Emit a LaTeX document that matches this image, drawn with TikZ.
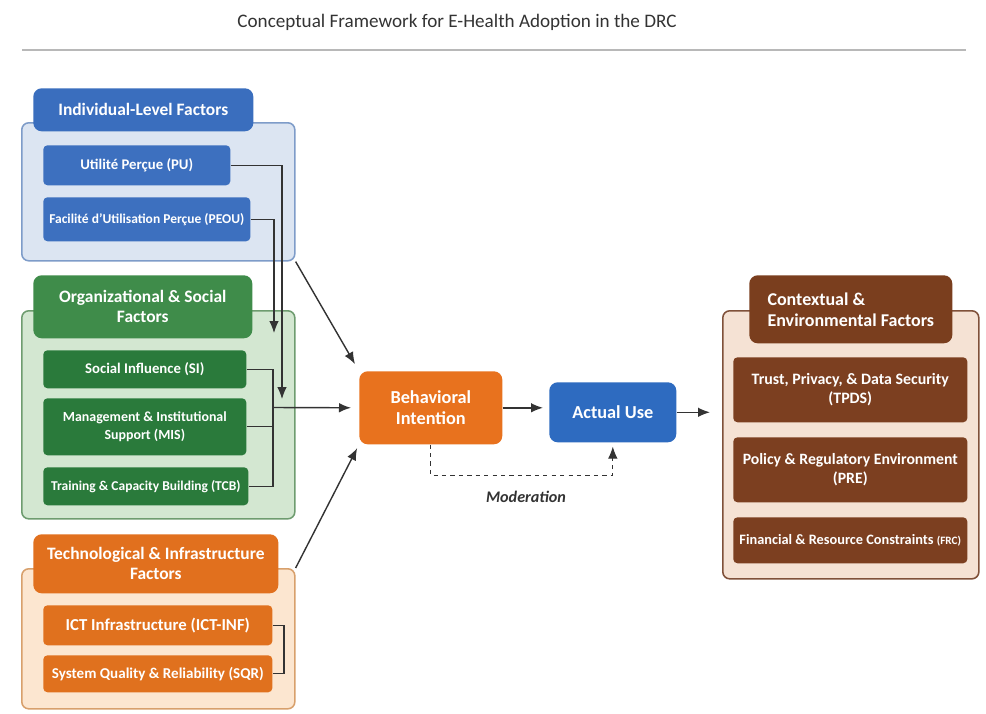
\documentclass[tikz,border=0pt]{standalone}
\usepackage{fontspec}
\setmainfont{Carlito}
\usetikzlibrary{arrows.meta,positioning}
\definecolor{indfill}{HTML}{DCE5F2}\definecolor{inddraw}{HTML}{7E9CC9}\definecolor{indhdr}{HTML}{3A6EBE}\definecolor{inditm}{HTML}{3D70BF}
\definecolor{orgfill}{HTML}{D3E7D1}\definecolor{orgdraw}{HTML}{6E9C6F}\definecolor{orghdr}{HTML}{3F8C4A}\definecolor{orgitm}{HTML}{2A7A3B}
\definecolor{tecfill}{HTML}{FCE6D0}\definecolor{tecdraw}{HTML}{D8A06C}\definecolor{techdr}{HTML}{E1701E}\definecolor{tecitm}{HTML}{E0711E}
\definecolor{ctxfill}{HTML}{F5E2D4}\definecolor{ctxdraw}{HTML}{80513A}\definecolor{ctxhdr}{HTML}{7A3E1E}\definecolor{ctxitm}{HTML}{7C3F20}
\definecolor{bicol}{HTML}{E8721E}\definecolor{aucol}{HTML}{2E6BC0}\definecolor{arrgray}{HTML}{333333}
\begin{document}
\begin{tikzpicture}[x=0.025cm,y=-0.025cm,
grp/.style={draw,line width=1.1pt,rounded corners=5pt,anchor=north west,inner sep=0pt},
hdr/.style={rounded corners=6pt,anchor=north west,text=white,font=\bfseries\fontsize{12.4}{14.4}\selectfont,align=center,inner sep=2pt},
itm/.style={rounded corners=3pt,anchor=north west,text=white,font=\bfseries\fontsize{10.5}{12.5}\selectfont,align=center,inner sep=2pt},
core/.style={rounded corners=6pt,anchor=north west,text=white,font=\bfseries\fontsize{13}{15}\selectfont,align=center},
arr/.style={-{Latex[length=3mm,width=2.4mm]},line width=1pt,draw=arrgray},
lnk/.style={line width=0.8pt,draw=arrgray}]
\useasboundingbox[fill=white](0,0) rectangle (986,713);
% title
\node[text=arrgray,font=\fontsize{13.6}{15}\selectfont] (title) at (457,22) {Conceptual Framework for E-Health Adoption in the DRC};
\coordinate (rulel) at (22,50);\coordinate (ruler) at (966,50);
\draw[line width=1pt,draw=black!28](rulel)--(ruler);
% individual-level factors
\node[grp,draw=inddraw,fill=indfill,minimum width=6.825cm,minimum height=3.45cm] (ind) at (21,122) {};
\node[hdr,fill=indhdr,minimum width=5.5cm,minimum height=1.075cm] (indh) at (33,88) {Individual-Level Factors};
\node[itm,fill=inditm,minimum width=4.675cm,minimum height=1cm] (PU) at (43,145) {Utilité Perçue (PU)};
\node[itm,fill=inditm,minimum width=5.175cm,minimum height=1.1cm,font=\bfseries\fontsize{9.6}{11}\selectfont] (PEOU) at (43,197) {Facilité d'Utilisation Perçue (PEOU)};
% organizational & social factors
\node[grp,draw=orgdraw,fill=orgfill,minimum width=6.825cm,minimum height=5.2cm] (org) at (21,310) {};
\node[hdr,fill=orghdr,minimum width=5.475cm,minimum height=1.575cm] (orgh) at (33,275) {Organizational \& Social\\Factors};
\node[itm,fill=orgitm,minimum width=5.075cm,minimum height=0.95cm] (SI) at (43,350) {Social Influence (SI)};
\node[itm,fill=orgitm,minimum width=5.075cm,minimum height=1.425cm,font=\bfseries\fontsize{9.9}{12.4}\selectfont] (MIS) at (43,398) {Management \& Institutional\\Support (MIS)};
\node[itm,fill=orgitm,minimum width=5.125cm,minimum height=0.95cm,font=\bfseries\fontsize{9.6}{11}\selectfont] (TCB) at (43,467) {Training \& Capacity Building (TCB)};
% technological & infrastructure factors
\node[grp,draw=tecdraw,fill=tecfill,minimum width=6.825cm,minimum height=3.5cm] (tec) at (21,568) {};
\node[hdr,fill=techdr,minimum width=6.125cm,minimum height=1.475cm] (tech) at (33,534) {Technological \& Infrastructure\\Factors};
\node[itm,fill=tecitm,minimum width=5.725cm,minimum height=1cm,font=\bfseries\fontsize{11.9}{13}\selectfont] (ICT) at (43,605) {ICT Infrastructure (ICT-INF)};
\node[itm,fill=tecitm,minimum width=5.725cm,minimum height=0.925cm,font=\bfseries\fontsize{10.7}{12}\selectfont] (SQR) at (43,655) {System Quality \& Reliability (SQR)};
% core constructs
\node[core,fill=bicol,minimum width=3.575cm,minimum height=1.825cm] (BI) at (359,371) {Behavioral\\Intention};
\node[core,fill=aucol,minimum width=3.175cm,minimum height=1.5cm] (AU) at (549,382) {Actual Use};
\node[text=arrgray,font=\bfseries\itshape\fontsize{11.5}{13}\selectfont] (modlbl) at (526,497) {Moderation};
% contextual & environmental factors
\node[grp,draw=ctxdraw,fill=ctxfill,minimum width=6.4cm,minimum height=6.7cm] (ctx) at (722,310) {};
\node[hdr,fill=ctxhdr,minimum width=5.075cm,minimum height=1.7cm,align=left,font=\bfseries\fontsize{12.8}{15}\selectfont] (ctxh) at (749,275) {Contextual \&\\Environmental Factors};
\node[itm,fill=ctxitm,minimum width=5.85cm,minimum height=1.625cm,font=\bfseries\fontsize{11.3}{13.5}\selectfont] (TPDS) at (733,357) {Trust, Privacy, \& Data Security\\(TPDS)};
\node[itm,fill=ctxitm,minimum width=5.85cm,minimum height=1.625cm,font=\bfseries\fontsize{11.2}{13.5}\selectfont] (PRE) at (733,437) {Policy \& Regulatory Environment\\(PRE)};
\node[itm,fill=ctxitm,minimum width=5.85cm,minimum height=1.15cm,font=\bfseries\fontsize{10.2}{12}\selectfont] (FRC) at (733,517) {Financial \& Resource Constraints {\fontsize{8}{9}\selectfont(FRC)}};
% connectors
\coordinate (pudn) at (282,399);\coordinate (peoudn) at (274,333);
\coordinate (orgbr) at (273,407.5);\coordinate (tecbr) at (284,649);
\draw[arr,line width=0.8pt](PU.east)-|(pudn);\draw[arr,line width=0.8pt](PEOU.east)-|(peoudn);
\draw[lnk](SI.east)-|(orgbr)|-(TCB.east);\draw[lnk](MIS.east)--(MIS.east-|orgbr);
\draw[arr,shorten >=2mm](orgbr)--(BI.west);
\draw[lnk](ICT.east)-|(tecbr)|-(SQR.east);
\draw[arr,shorten >=2mm](ind.south east)--(BI.north west);\draw[arr,shorten >=1mm](tec.north east)--(BI.south west);
\draw[arr,shorten >=1.5mm](BI.east)--(BI.east-|AU.west);\draw[arr,shorten >=3mm](AU.east)--(AU.east-|ctx.west);
\draw[arr,dashed,line width=0.8pt,shorten >=1mm](BI.south)--++(0,31)-|(AU.south);
\end{tikzpicture}
\end{document}
